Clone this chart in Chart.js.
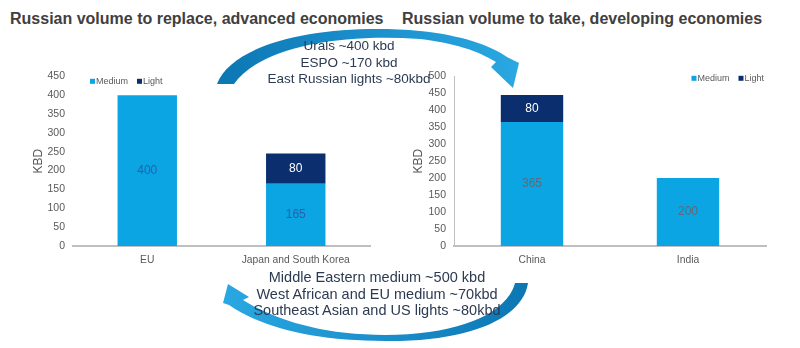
<!DOCTYPE html>
<html>
<head>
<meta charset="utf-8">
<script src="https://cdn.jsdelivr.net/npm/chart.js@4.4.1/dist/chart.umd.min.js"></script>
<style>
  html, body { margin: 0; padding: 0; background: #fff; }
  body { width: 800px; height: 348px; position: relative; overflow: hidden; font-family: "Liberation Sans", Arial, sans-serif; }
  .title { position: absolute; top: 10px; font-weight: bold; font-size: 16px; color: #404040; white-space: nowrap; }
  .note { position: absolute; text-align: center; line-height: 16.5px; color: #2c3a52; white-space: nowrap; }
  .box { position: absolute; }
  svg { position: absolute; left: 0; top: 0; }
</style>
</head>
<body>
<div class="title" style="left:10px;">Russian volume to replace, advanced economies</div>
<div class="title" style="left:402px;">Russian volume to take, developing economies</div>

<div class="box" style="left:10px; top:62px; width:370px; height:210px;"><canvas id="leftChart"></canvas></div>
<div class="box" style="left:400px; top:62px; width:376px; height:210px;"><canvas id="rightChart"></canvas></div>

<svg width="800" height="348">
  <defs>
    <linearGradient id="gTop" x1="0" y1="0" x2="1" y2="0">
      <stop offset="0" stop-color="#0b77b3"/>
      <stop offset="0.5" stop-color="#1b8fcc"/>
      <stop offset="1" stop-color="#2aa8e2"/>
    </linearGradient>
    <linearGradient id="gBot" x1="0" y1="0" x2="1" y2="0">
      <stop offset="0" stop-color="#2aa8e2"/>
      <stop offset="0.5" stop-color="#1b8fcc"/>
      <stop offset="1" stop-color="#0b77b3"/>
    </linearGradient>
  </defs>
  <!-- top arrow: left to right -->
  <path fill="url(#gTop)" d="M217,84 C234,40 330,23 420,31 C460,35 490,45 507,57 L519,63 L513,88 L491,67 L496,62 C478,51 455,43 420,39 C340,33 260,47 234,84 Z"/>
  <!-- bottom arrow: right to left -->
  <path fill="url(#gBot)" d="M515,283 L528,283 C523,318 470,342 385,341 C315,341 262,328 229,305 L223,303 L228,284 L249,297 L243,300 C275,320 322,335 385,335 C458,335 507,314 515,283 Z"/>
</svg>

<div class="note" style="left:249px; top:38px; width:200px; font-size:13.5px;">Urals ~400 kbd<br>ESPO ~170 kbd<br>East Russian lights ~80kbd</div>
<div class="note" style="left:227px; top:269px; width:300px; font-size:14.5px;">Middle Eastern medium ~500 kbd<br>West African and EU medium ~70kbd<br>Southeast Asian and US lights ~80kbd</div>

<script>
// data
const leftCategories = ['EU', 'Japan and South Korea'];
const leftMedium = [400, 165];
const leftLight = [null, 80];
const leftTicks = { max: 450, step: 50 };

const rightCategories = ['China', 'India'];
const rightMedium = [365, 200];
const rightLight = [80, null];
const rightTicks = { max: 500, step: 50 };

const mediumColor = '#0aa5e2';
const lightColor = '#0b2f6e';
const axisGray = '#595959';
const fontFamily = '"Liberation Sans", Arial, sans-serif';

// writes the value in the middle of each bar segment
const barLabels = {
    id: 'barLabels',
    afterDatasetsDraw(chart, args, opts) {
        const ctx = chart.ctx;
        ctx.save();
        ctx.font = '12px ' + fontFamily;
        ctx.textAlign = 'center';
        ctx.textBaseline = 'middle';
        chart.data.datasets.forEach((ds, i) => {
            const meta = chart.getDatasetMeta(i);
            meta.data.forEach((bar, j) => {
                const v = ds.data[j];
                if (v == null) return;
                ctx.fillStyle = opts.colors[i];
                ctx.fillText(v, bar.x, (bar.y + bar.base) / 2);
            });
        });
        ctx.restore();
    }
};

// small one-line legend inside the plot area
const miniLegend = {
    id: 'miniLegend',
    afterDraw(chart, args, opts) {
        const ctx = chart.ctx;
        const area = chart.chartArea;
        ctx.save();
        ctx.font = '9px ' + fontFamily;
        ctx.textBaseline = 'middle';
        const items = chart.data.datasets.map(ds => ({ text: ds.label, color: ds.backgroundColor, w: 6 + ctx.measureText(ds.label).width }));
        const gap = 9;
        const total = items.reduce((s, it) => s + it.w, 0) + gap * (items.length - 1);
        let x = opts.align === 'end' ? area.right - opts.offsetX - total : area.left + opts.offsetX;
        const y = area.top + opts.offsetY;
        items.forEach(it => {
            ctx.fillStyle = it.color;
            ctx.fillRect(x, y - 2.5, 5, 5);
            ctx.fillStyle = axisGray;
            ctx.fillText(it.text, x + 6, y);
            x += it.w + gap;
        });
        ctx.restore();
    }
};

function makeChart(id, labels, medium, light, ticks, cfg) {
    const ctx = document.getElementById(id).getContext('2d');
    return new Chart(ctx, {
        type: 'bar',
        data: {
            labels: labels,
            datasets: [
                { label: 'Medium', data: medium, backgroundColor: mediumColor, barPercentage: 0.4, categoryPercentage: 1 },
                { label: 'Light', data: light, backgroundColor: lightColor, barPercentage: 0.4, categoryPercentage: 1 }
            ]
        },
        plugins: [barLabels, miniLegend],
        options: {
            responsive: true,
            maintainAspectRatio: false,
            animation: false,
            layout: { padding: { left: cfg.padLeft, right: 10, top: 11, bottom: 0 } },
            plugins: {
                legend: { display: false },
                tooltip: { enabled: false },
                barLabels: { colors: [cfg.mediumLabel, '#ffffff'] },
                miniLegend: cfg.legend
            },
            scales: {
                x: {
                    stacked: true,
                    grid: { display: false, drawTicks: false },
                    border: { display: true, color: '#bfbfbf', width: 2 },
                    ticks: { color: axisGray, padding: 8, font: { size: 10.3, family: fontFamily } },
                    afterFit: (scale) => { scale.height = 26; }
                },
                y: {
                    stacked: true,
                    min: 0,
                    max: ticks.max,
                    grid: { display: false, drawTicks: false },
                    border: { display: cfg.yBorder, color: '#bfbfbf', width: 1 },
                    ticks: { stepSize: ticks.step, color: axisGray, padding: 8, font: { size: 10.5, family: fontFamily } },
                    title: { display: true, text: 'KBD', color: axisGray, padding: { top: 3, bottom: 0 }, font: { size: 12, family: fontFamily } },
                    afterFit: (scale) => { scale.width = cfg.yWidth; }
                }
            }
        }
    });
}

makeChart('leftChart', leftCategories, leftMedium, leftLight, leftTicks,
    { padLeft: 18, yWidth: 45, mediumLabel: '#2a5fae', yBorder: false,
      legend: { align: 'start', offsetX: 17, offsetY: 5 } });
makeChart('rightChart', rightCategories, rightMedium, rightLight, rightTicks,
    { padLeft: 8, yWidth: 46, mediumLabel: '#5d6b7a', yBorder: true,
      legend: { align: 'end', offsetX: 2, offsetY: 2 } });
</script>
</body>
</html>
